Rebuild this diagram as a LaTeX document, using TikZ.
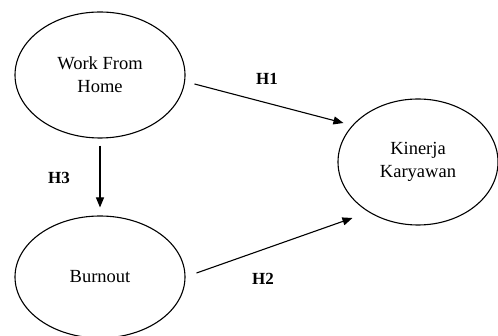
\documentclass[tikz,border=0pt]{standalone}
\usepackage{fontspec}
\setmainfont{Liberation Serif}
\usetikzlibrary{shapes.geometric,arrows.meta}
\begin{document}
\begin{tikzpicture}[x=1pt,y=-1pt,
  latent/.style={draw, ellipse, line width=1.1pt, inner sep=0pt, align=center,
    font=\fontsize{18.5}{23}\selectfont},
  conn/.style={line width=1.1pt, -{Triangle[length=10pt,width=8pt]}},
  hlabel/.style={font=\fontsize{17}{20}\selectfont\bfseries}]
\useasboundingbox (0,0) rectangle (498,336);
\node[latent, minimum width=170pt, minimum height=126pt] (wfh) at (100,75) {Work From\\Home};
\node[latent, minimum width=170pt, minimum height=122pt] (burn) at (100,277) {Burnout};
\node[latent, minimum width=160pt, minimum height=126pt] (kin) at (418,162) {Kinerja\\Karyawan};
\draw[conn] ([xshift=9pt,yshift=-9pt]wfh.east) -- ([xshift=6pt,yshift=39pt]kin.west);
\draw[conn] ([xshift=11pt,yshift=4pt]burn.east) -- ([xshift=15pt,yshift=-56pt]kin.west);
\draw[conn] ([yshift=-7pt]wfh.south) -- ([yshift=8pt]burn.north);
\node[hlabel] (h1) at (267,79) {H1};
\node[hlabel] (h2) at (263,279) {H2};
\node[hlabel] (h3) at (59,178) {H3};
\end{tikzpicture}
\end{document}
